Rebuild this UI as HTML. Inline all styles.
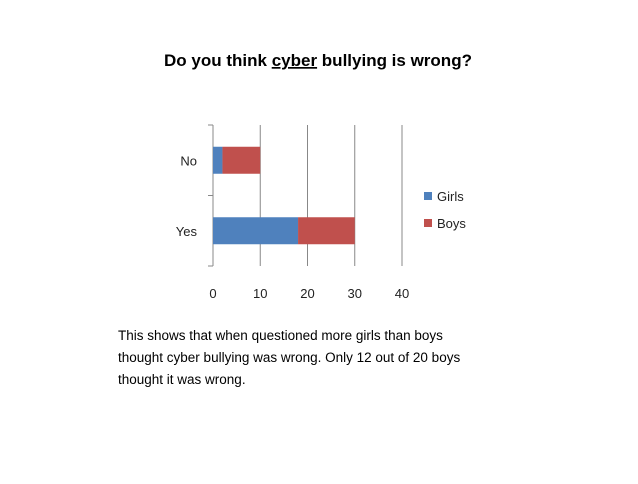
<!DOCTYPE html>
<html><head><meta charset="utf-8"><style>
body{margin:0;background:#fff;width:638px;height:479px;overflow:hidden;font-family:"Liberation Sans",sans-serif;}
</style></head><body>
<svg width="638" height="479" xmlns="http://www.w3.org/2000/svg">
<text x="318" y="66" text-anchor="middle" font-size="17" font-weight="bold" fill="#000">Do you think <tspan text-decoration="underline">cyber</tspan> bullying is wrong?</text>
<g id="plot"></g>
<g>
<rect x="424" y="192" width="8" height="8" fill="#4f81bd"/>
<text x="437" y="201" font-size="13" fill="#222">Girls</text>
<rect x="424" y="219" width="8" height="8" fill="#c0504d"/>
<text x="437" y="228" font-size="13" fill="#222">Boys</text>
</g>
<text font-size="13.5" fill="#000">
<tspan x="118" y="340">This shows that when questioned more girls than boys</tspan>
<tspan x="118" y="362">thought cyber bullying was wrong. Only 12 out of 20 boys</tspan>
<tspan x="118" y="384">thought it was wrong.</tspan>
</text>
</svg>
<script>
const categories=["No","Yes"];
const girls=[2,18];
const boys=[8,12];
const ticks=[0,10,20,30,40];
const ns="http://www.w3.org/2000/svg";
const g=document.getElementById("plot");
const X0=213,X1=402,Y0=125,Y1=266,xmax=40;
const xs=v=>X0+(X1-X0)*v/xmax;
const band=(Y1-Y0)/categories.length;
function mk(t,a){const e=document.createElementNS(ns,t);for(const k in a)e.setAttribute(k,a[k]);g.appendChild(e);return e;}
ticks.forEach(t=>{
 const l=mk("line",{x1:xs(t),x2:xs(t),y1:Y0,y2:Y1,stroke:t===0?"#888":"#888","stroke-width":1});
 
 
 const tx=mk("text",{x:xs(t),y:298,"text-anchor":"middle","font-size":13,fill:"#222"});
 tx.textContent=t;
 
 
});
for(let i=0;i<=categories.length;i++){
 const tk=mk("line",{x1:X0-5,x2:X0,y1:Y0+band*i,y2:Y0+band*i,stroke:"#888"});
 
 
}
const bh=27;
categories.forEach((c,i)=>{
 const cy=Y0+band*(i+0.5);
 const y=cy-bh/2;
 const b1=mk("rect",{x:xs(0),y:y,width:xs(girls[i])-xs(0),height:bh,fill:"#4f81bd"});
 
 
 const b2=mk("rect",{x:xs(girls[i]),y:y,width:xs(girls[i]+boys[i])-xs(girls[i]),height:bh,fill:"#c0504d"});
 
 
 const t=mk("text",{x:197,y:cy+5,"text-anchor":"end","font-size":13,fill:"#222"});
 t.textContent=c;
 
 
});
</script>
</body></html>
